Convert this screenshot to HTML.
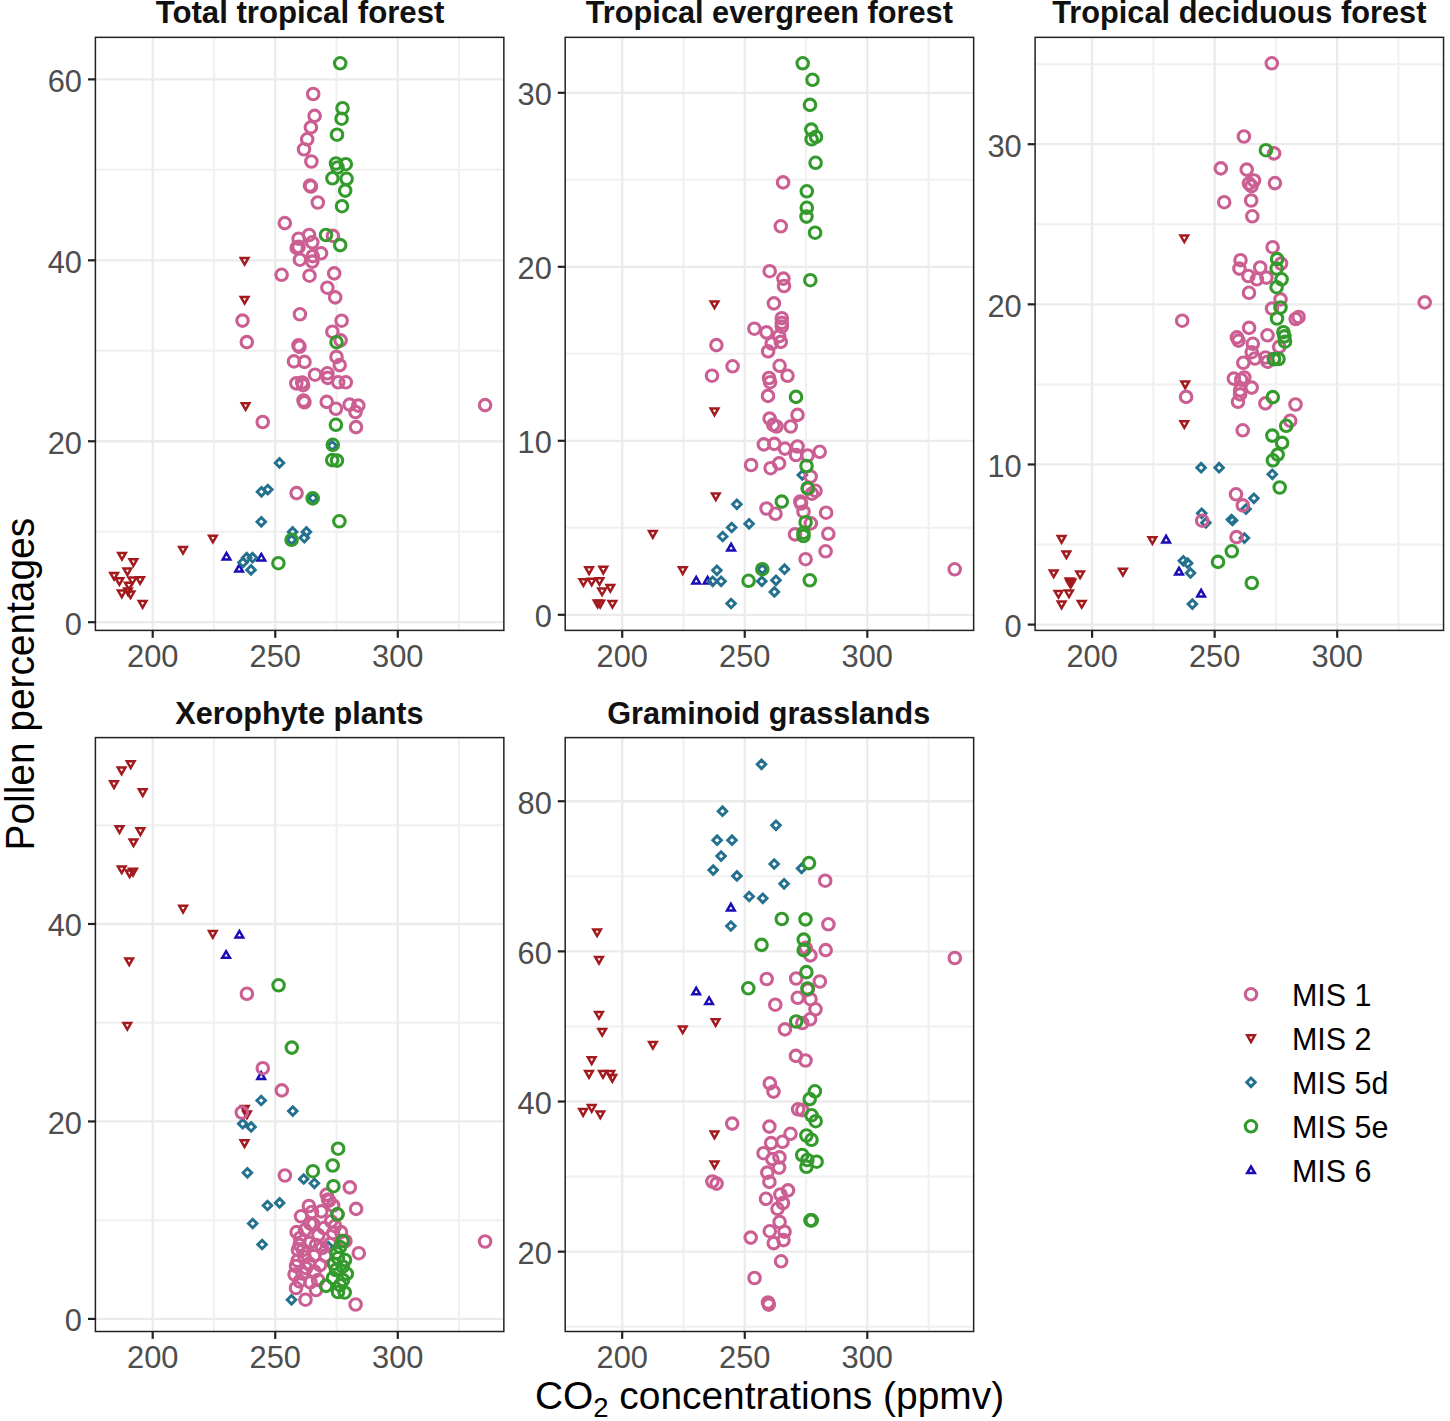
<!DOCTYPE html>
<html><head><meta charset="utf-8"><style>
html,body{margin:0;padding:0;background:#fff;}
svg{display:block;}
text{font-family:"Liberation Sans",sans-serif;}
</style></head><body>
<svg width="1450" height="1421" viewBox="0 0 1450 1421">
<rect width="1450" height="1421" fill="#fff"/>

<g stroke="#F0F0F0" stroke-width="2"><line x1="95.4" x2="503.85" y1="531.73" y2="531.73"/><line x1="95.4" x2="503.85" y1="350.79" y2="350.79"/><line x1="95.4" x2="503.85" y1="169.85" y2="169.85"/><line x1="213.97" x2="213.97" y1="37.35" y2="630.4"/><line x1="336.52" x2="336.52" y1="37.35" y2="630.4"/><line x1="459.07" x2="459.07" y1="37.35" y2="630.4"/></g><g stroke="#EBEBEB" stroke-width="2.3"><line x1="95.4" x2="503.85" y1="622.2" y2="622.2"/><line x1="95.4" x2="503.85" y1="441.26" y2="441.26"/><line x1="95.4" x2="503.85" y1="260.32" y2="260.32"/><line x1="95.4" x2="503.85" y1="79.38" y2="79.38"/><line x1="152.7" x2="152.7" y1="37.35" y2="630.4"/><line x1="275.25" x2="275.25" y1="37.35" y2="630.4"/><line x1="397.8" x2="397.8" y1="37.35" y2="630.4"/></g>
<g fill="none" stroke="#1A0DB5" stroke-width="2.5" stroke-linejoin="miter"><path d="M222.69 559.5L230.31 559.5L226.5 552.9Z"/><path d="M235.29 571.6L242.91 571.6L239.1 565Z"/><path d="M257.49 560.5L265.11 560.5L261.3 553.9Z"/></g>
<g fill="none" stroke="#A31A1E" stroke-width="2.5" stroke-linejoin="miter"><path d="M118.19 552.9L125.81 552.9L122 559.5Z"/><path d="M129.59 559.2L137.21 559.2L133.4 565.8Z"/><path d="M123.59 568.4L131.21 568.4L127.4 575Z"/><path d="M110.29 572.9L117.91 572.9L114.1 579.5Z"/><path d="M115.59 578.2L123.21 578.2L119.4 584.8Z"/><path d="M128.59 577.5L136.21 577.5L132.4 584.1Z"/><path d="M136.29 577.2L143.91 577.2L140.1 583.8Z"/><path d="M125.09 582.8L132.71 582.8L128.9 589.4Z"/><path d="M117.99 590.6L125.61 590.6L121.8 597.2Z"/><path d="M124.19 588.5L131.81 588.5L128 595.1Z"/><path d="M126.69 591.5L134.31 591.5L130.5 598.1Z"/><path d="M138.79 601.1L146.41 601.1L142.6 607.7Z"/><path d="M179.19 546.9L186.81 546.9L183 553.5Z"/><path d="M209.09 535.7L216.71 535.7L212.9 542.3Z"/><path d="M240.79 258L248.41 258L244.6 264.6Z"/><path d="M240.79 296.9L248.41 296.9L244.6 303.5Z"/><path d="M241.79 403.2L249.41 403.2L245.6 409.8Z"/></g>
<g fill="none" stroke="#24708F" stroke-width="2.9" stroke-linejoin="miter"><path d="M279.5 458.6L283.8 462.9L279.5 467.2L275.2 462.9Z"/><path d="M261.5 487.5L265.8 491.8L261.5 496.1L257.2 491.8Z"/><path d="M267.8 485.3L272.1 489.6L267.8 493.9L263.5 489.6Z"/><path d="M261.3 517.5L265.6 521.8L261.3 526.1L257 521.8Z"/><path d="M292.6 527.6L296.9 531.9L292.6 536.2L288.3 531.9Z"/><path d="M306.4 527.6L310.7 531.9L306.4 536.2L302.1 531.9Z"/><path d="M304.3 533.4L308.6 537.7L304.3 542L300 537.7Z"/><path d="M291.6 535.5L295.9 539.8L291.6 544.1L287.3 539.8Z"/><path d="M246.7 553.4L251 557.7L246.7 562L242.4 557.7Z"/><path d="M252.5 553.4L256.8 557.7L252.5 562L248.2 557.7Z"/><path d="M243 558.2L247.3 562.5L243 566.8L238.7 562.5Z"/><path d="M251 565.6L255.3 569.9L251 574.2L246.7 569.9Z"/><path d="M332.2 441.5L336.5 445.8L332.2 450.1L327.9 445.8Z"/><path d="M313 493.7L317.3 498L313 502.3L308.7 498Z"/></g>
<g fill="none" stroke="#CB5E92" stroke-width="3.1" stroke-linejoin="miter"><circle cx="296.6" cy="493.1" r="5.75"/><circle cx="313.2" cy="94" r="5.75"/><circle cx="314.6" cy="115.9" r="5.75"/><circle cx="310.9" cy="127.4" r="5.75"/><circle cx="307.2" cy="139.3" r="5.75"/><circle cx="304" cy="149.3" r="5.75"/><circle cx="311.4" cy="161.5" r="5.75"/><circle cx="310" cy="185.6" r="5.75"/><circle cx="310.9" cy="186.5" r="5.75"/><circle cx="317.8" cy="202.5" r="5.75"/><circle cx="284.8" cy="223.1" r="5.75"/><circle cx="298.6" cy="238.7" r="5.75"/><circle cx="309.1" cy="235" r="5.75"/><circle cx="312.3" cy="242.3" r="5.75"/><circle cx="298.6" cy="246.9" r="5.75"/><circle cx="296.7" cy="247.8" r="5.75"/><circle cx="299.9" cy="259.7" r="5.75"/><circle cx="312.7" cy="256.1" r="5.75"/><circle cx="312.3" cy="261.6" r="5.75"/><circle cx="321" cy="253.3" r="5.75"/><circle cx="332.9" cy="235.9" r="5.75"/><circle cx="281.6" cy="274.8" r="5.75"/><circle cx="309.5" cy="275.7" r="5.75"/><circle cx="334.2" cy="273.4" r="5.75"/><circle cx="327.4" cy="287.7" r="5.75"/><circle cx="335.2" cy="297.4" r="5.75"/><circle cx="299.9" cy="314.3" r="5.75"/><circle cx="341.6" cy="320.7" r="5.75"/><circle cx="332.4" cy="331.7" r="5.75"/><circle cx="340.6" cy="340.4" r="5.75"/><circle cx="298.5" cy="345.4" r="5.75"/><circle cx="299.5" cy="346.8" r="5.75"/><circle cx="294" cy="361.4" r="5.75"/><circle cx="304.5" cy="361.9" r="5.75"/><circle cx="336.5" cy="356.9" r="5.75"/><circle cx="339.7" cy="365.1" r="5.75"/><circle cx="315" cy="374.7" r="5.75"/><circle cx="327.4" cy="373.3" r="5.75"/><circle cx="327.8" cy="377.9" r="5.75"/><circle cx="345.8" cy="382.3" r="5.75"/><circle cx="338.2" cy="382.3" r="5.75"/><circle cx="296.3" cy="383.4" r="5.75"/><circle cx="302.2" cy="382.5" r="5.75"/><circle cx="303.1" cy="385.2" r="5.75"/><circle cx="303.5" cy="400.5" r="5.75"/><circle cx="304.4" cy="402.3" r="5.75"/><circle cx="326.7" cy="401.9" r="5.75"/><circle cx="335.9" cy="408.8" r="5.75"/><circle cx="349.6" cy="404.6" r="5.75"/><circle cx="358.3" cy="405.6" r="5.75"/><circle cx="355.5" cy="412" r="5.75"/><circle cx="356" cy="427.1" r="5.75"/><circle cx="242.5" cy="320.6" r="5.75"/><circle cx="246.8" cy="342.1" r="5.75"/><circle cx="262.7" cy="422" r="5.75"/><circle cx="485.1" cy="405.1" r="5.75"/></g>
<g fill="none" stroke="#339A2C" stroke-width="3.1" stroke-linejoin="miter"><circle cx="312.7" cy="498.4" r="5.75"/><circle cx="291.6" cy="539.8" r="5.75"/><circle cx="278.4" cy="563.2" r="5.75"/><circle cx="339.4" cy="521.3" r="5.75"/><circle cx="332.8" cy="444.8" r="5.75"/><circle cx="332.2" cy="460.1" r="5.75"/><circle cx="337" cy="460.6" r="5.75"/><circle cx="340.2" cy="63.3" r="5.75"/><circle cx="342.5" cy="108.2" r="5.75"/><circle cx="341.6" cy="118.7" r="5.75"/><circle cx="337" cy="134.7" r="5.75"/><circle cx="336" cy="163.5" r="5.75"/><circle cx="337.5" cy="167.5" r="5.75"/><circle cx="345.8" cy="164.2" r="5.75"/><circle cx="332.4" cy="178.3" r="5.75"/><circle cx="346.6" cy="178.8" r="5.75"/><circle cx="345.2" cy="190.6" r="5.75"/><circle cx="342" cy="206.2" r="5.75"/><circle cx="326" cy="235" r="5.75"/><circle cx="340.2" cy="245.1" r="5.75"/><circle cx="336.5" cy="342.2" r="5.75"/><circle cx="335.9" cy="424.8" r="5.75"/></g>
<rect x="95.4" y="37.35" width="408.45" height="593.05" fill="none" stroke="#222222" stroke-width="1.5"/>
<g stroke="#222222" stroke-width="2.2"><line x1="88" x2="95.4" y1="622.2" y2="622.2"/><line x1="88" x2="95.4" y1="441.26" y2="441.26"/><line x1="88" x2="95.4" y1="260.32" y2="260.32"/><line x1="88" x2="95.4" y1="79.38" y2="79.38"/><line x1="152.7" x2="152.7" y1="630.4" y2="637.8"/><line x1="275.25" x2="275.25" y1="630.4" y2="637.8"/><line x1="397.8" x2="397.8" y1="630.4" y2="637.8"/></g>
<g fill="#4D4D4D" font-size="30.8"><text x="82" y="634.5" text-anchor="end">0</text><text x="82" y="453.56" text-anchor="end">20</text><text x="82" y="272.62" text-anchor="end">40</text><text x="82" y="91.68" text-anchor="end">60</text><text x="152.7" y="666.5" text-anchor="middle">200</text><text x="275.25" y="666.5" text-anchor="middle">250</text><text x="397.8" y="666.5" text-anchor="middle">300</text></g>
<text x="300.05" y="23.35" text-anchor="middle" font-weight="bold" font-size="31.2" fill="#111">Total tropical forest</text>
<g stroke="#F0F0F0" stroke-width="2"><line x1="565.2" x2="973.65" y1="527.8" y2="527.8"/><line x1="565.2" x2="973.65" y1="353.8" y2="353.8"/><line x1="565.2" x2="973.65" y1="179.8" y2="179.8"/><line x1="683.48" x2="683.48" y1="37.35" y2="630.4"/><line x1="806.02" x2="806.02" y1="37.35" y2="630.4"/><line x1="928.58" x2="928.58" y1="37.35" y2="630.4"/></g><g stroke="#EBEBEB" stroke-width="2.3"><line x1="565.2" x2="973.65" y1="614.8" y2="614.8"/><line x1="565.2" x2="973.65" y1="440.8" y2="440.8"/><line x1="565.2" x2="973.65" y1="266.8" y2="266.8"/><line x1="565.2" x2="973.65" y1="92.8" y2="92.8"/><line x1="622.2" x2="622.2" y1="37.35" y2="630.4"/><line x1="744.75" x2="744.75" y1="37.35" y2="630.4"/><line x1="867.3" x2="867.3" y1="37.35" y2="630.4"/></g>
<g fill="none" stroke="#1A0DB5" stroke-width="2.5" stroke-linejoin="miter"><path d="M692.39 583.5L700.01 583.5L696.2 576.9Z"/><path d="M703.79 583.5L711.41 583.5L707.6 576.9Z"/><path d="M727.29 550.4L734.91 550.4L731.1 543.8Z"/></g>
<g fill="none" stroke="#A31A1E" stroke-width="2.5" stroke-linejoin="miter"><path d="M585.29 567.3L592.91 567.3L589.1 573.9Z"/><path d="M599.49 566.8L607.11 566.8L603.3 573.4Z"/><path d="M579.59 579.2L587.21 579.2L583.4 585.8Z"/><path d="M587.89 578.7L595.51 578.7L591.7 585.3Z"/><path d="M595.69 578.2L603.31 578.2L599.5 584.8Z"/><path d="M606.49 584.9L614.11 584.9L610.3 591.5Z"/><path d="M598.29 588.5L605.91 588.5L602.1 595.1Z"/><path d="M593.79 600.6L601.41 600.6L597.6 607.2Z"/><path d="M596.39 600.8L604.01 600.8L600.2 607.4Z"/><path d="M608.59 601L616.21 601L612.4 607.6Z"/><path d="M648.99 531.1L656.61 531.1L652.8 537.7Z"/><path d="M678.99 567.3L686.61 567.3L682.8 573.9Z"/><path d="M711.99 493.4L719.61 493.4L715.8 500Z"/><path d="M710.69 301.5L718.31 301.5L714.5 308.1Z"/><path d="M710.69 408.6L718.31 408.6L714.5 415.2Z"/></g>
<g fill="none" stroke="#24708F" stroke-width="2.9" stroke-linejoin="miter"><path d="M716.9 566L721.2 570.3L716.9 574.6L712.6 570.3Z"/><path d="M736.9 500L741.2 504.3L736.9 508.6L732.6 504.3Z"/><path d="M749.1 519.5L753.4 523.8L749.1 528.1L744.8 523.8Z"/><path d="M731.7 523.2L736 527.5L731.7 531.8L727.4 527.5Z"/><path d="M722.7 532.2L727 536.5L722.7 540.8L718.4 536.5Z"/><path d="M712.7 577L717 581.3L712.7 585.6L708.4 581.3Z"/><path d="M721.1 577L725.4 581.3L721.1 585.6L716.8 581.3Z"/><path d="M731.1 599.2L735.4 603.5L731.1 607.8L726.8 603.5Z"/><path d="M762.3 564.9L766.6 569.2L762.3 573.5L758 569.2Z"/><path d="M761.8 577L766.1 581.3L761.8 585.6L757.5 581.3Z"/><path d="M776 576L780.3 580.3L776 584.6L771.7 580.3Z"/><path d="M784.5 564.9L788.8 569.2L784.5 573.5L780.2 569.2Z"/><path d="M774.4 587.6L778.7 591.9L774.4 596.2L770.1 591.9Z"/><path d="M802.3 470.7L806.6 475L802.3 479.3L798 475Z"/></g>
<g fill="none" stroke="#CB5E92" stroke-width="3.1" stroke-linejoin="miter"><circle cx="766.5" cy="508.5" r="5.75"/><circle cx="775.5" cy="513.8" r="5.75"/><circle cx="800.3" cy="501.5" r="5.75"/><circle cx="801" cy="503.5" r="5.75"/><circle cx="803.5" cy="511.7" r="5.75"/><circle cx="810.8" cy="523.3" r="5.75"/><circle cx="811.9" cy="493.7" r="5.75"/><circle cx="826.1" cy="512.7" r="5.75"/><circle cx="795" cy="534.4" r="5.75"/><circle cx="828.3" cy="533.8" r="5.75"/><circle cx="825.6" cy="551.3" r="5.75"/><circle cx="805.6" cy="559.2" r="5.75"/><circle cx="732.6" cy="366.3" r="5.75"/><circle cx="779.6" cy="365.8" r="5.75"/><circle cx="787.5" cy="375.8" r="5.75"/><circle cx="769" cy="378" r="5.75"/><circle cx="770.1" cy="382.2" r="5.75"/><circle cx="768" cy="395.9" r="5.75"/><circle cx="769.6" cy="418.6" r="5.75"/><circle cx="797.5" cy="414.9" r="5.75"/><circle cx="773.3" cy="424.9" r="5.75"/><circle cx="776.4" cy="426.5" r="5.75"/><circle cx="790.7" cy="426.5" r="5.75"/><circle cx="763.8" cy="444.4" r="5.75"/><circle cx="774.3" cy="443.9" r="5.75"/><circle cx="784.9" cy="448.6" r="5.75"/><circle cx="797.5" cy="446.5" r="5.75"/><circle cx="796" cy="455" r="5.75"/><circle cx="807.6" cy="455.5" r="5.75"/><circle cx="819.7" cy="451.8" r="5.75"/><circle cx="751.1" cy="465" r="5.75"/><circle cx="770.6" cy="468.2" r="5.75"/><circle cx="779.1" cy="463.4" r="5.75"/><circle cx="810.7" cy="476.6" r="5.75"/><circle cx="808.1" cy="488.7" r="5.75"/><circle cx="815.5" cy="490.8" r="5.75"/><circle cx="780.8" cy="226.3" r="5.75"/><circle cx="769.7" cy="271.2" r="5.75"/><circle cx="783.4" cy="278.6" r="5.75"/><circle cx="784" cy="286" r="5.75"/><circle cx="773.9" cy="303.4" r="5.75"/><circle cx="781.8" cy="318.2" r="5.75"/><circle cx="781.8" cy="322.9" r="5.75"/><circle cx="781.8" cy="326.6" r="5.75"/><circle cx="754.4" cy="328.7" r="5.75"/><circle cx="766.5" cy="332.4" r="5.75"/><circle cx="779.2" cy="336.1" r="5.75"/><circle cx="780.8" cy="341.9" r="5.75"/><circle cx="768.1" cy="351.4" r="5.75"/><circle cx="771.8" cy="343.5" r="5.75"/><circle cx="716.4" cy="345.1" r="5.75"/><circle cx="783.1" cy="182.4" r="5.75"/><circle cx="712" cy="375.7" r="5.75"/><circle cx="954.7" cy="569.3" r="5.75"/></g>
<g fill="none" stroke="#339A2C" stroke-width="3.1" stroke-linejoin="miter"><circle cx="781.8" cy="501.6" r="5.75"/><circle cx="762.3" cy="569.2" r="5.75"/><circle cx="748.6" cy="580.8" r="5.75"/><circle cx="805.6" cy="522.2" r="5.75"/><circle cx="803.5" cy="532.8" r="5.75"/><circle cx="803.5" cy="536" r="5.75"/><circle cx="809.8" cy="580.3" r="5.75"/><circle cx="796" cy="396.9" r="5.75"/><circle cx="806.5" cy="466" r="5.75"/><circle cx="807.6" cy="488.2" r="5.75"/><circle cx="802.7" cy="63.3" r="5.75"/><circle cx="812.5" cy="79.8" r="5.75"/><circle cx="810" cy="104.9" r="5.75"/><circle cx="811.3" cy="129.6" r="5.75"/><circle cx="816" cy="136.8" r="5.75"/><circle cx="811.6" cy="139.3" r="5.75"/><circle cx="815.6" cy="162.8" r="5.75"/><circle cx="806.8" cy="191.3" r="5.75"/><circle cx="806.8" cy="207.8" r="5.75"/><circle cx="806.5" cy="216.6" r="5.75"/><circle cx="815.1" cy="232.7" r="5.75"/><circle cx="810.3" cy="280.2" r="5.75"/></g>
<rect x="565.2" y="37.35" width="408.45" height="593.05" fill="none" stroke="#222222" stroke-width="1.5"/>
<g stroke="#222222" stroke-width="2.2"><line x1="557.8" x2="565.2" y1="614.8" y2="614.8"/><line x1="557.8" x2="565.2" y1="440.8" y2="440.8"/><line x1="557.8" x2="565.2" y1="266.8" y2="266.8"/><line x1="557.8" x2="565.2" y1="92.8" y2="92.8"/><line x1="622.2" x2="622.2" y1="630.4" y2="637.8"/><line x1="744.75" x2="744.75" y1="630.4" y2="637.8"/><line x1="867.3" x2="867.3" y1="630.4" y2="637.8"/></g>
<g fill="#4D4D4D" font-size="30.8"><text x="551.8" y="627.1" text-anchor="end">0</text><text x="551.8" y="453.1" text-anchor="end">10</text><text x="551.8" y="279.1" text-anchor="end">20</text><text x="551.8" y="105.1" text-anchor="end">30</text><text x="622.2" y="666.5" text-anchor="middle">200</text><text x="744.75" y="666.5" text-anchor="middle">250</text><text x="867.3" y="666.5" text-anchor="middle">300</text></g>
<text x="769.35" y="23.35" text-anchor="middle" font-weight="bold" font-size="30.73" fill="#111">Tropical evergreen forest</text>
<g stroke="#F0F0F0" stroke-width="2"><line x1="1035.1" x2="1443.55" y1="544.53" y2="544.53"/><line x1="1035.1" x2="1443.55" y1="384.4" y2="384.4"/><line x1="1035.1" x2="1443.55" y1="224.27" y2="224.27"/><line x1="1035.1" x2="1443.55" y1="64.14" y2="64.14"/><line x1="1153.38" x2="1153.38" y1="37.35" y2="630.4"/><line x1="1275.92" x2="1275.92" y1="37.35" y2="630.4"/><line x1="1398.47" x2="1398.47" y1="37.35" y2="630.4"/></g><g stroke="#EBEBEB" stroke-width="2.3"><line x1="1035.1" x2="1443.55" y1="624.6" y2="624.6"/><line x1="1035.1" x2="1443.55" y1="464.47" y2="464.47"/><line x1="1035.1" x2="1443.55" y1="304.34" y2="304.34"/><line x1="1035.1" x2="1443.55" y1="144.21" y2="144.21"/><line x1="1092.1" x2="1092.1" y1="37.35" y2="630.4"/><line x1="1214.65" x2="1214.65" y1="37.35" y2="630.4"/><line x1="1337.2" x2="1337.2" y1="37.35" y2="630.4"/></g>
<g fill="none" stroke="#1A0DB5" stroke-width="2.5" stroke-linejoin="miter"><path d="M1162.29 542.4L1169.91 542.4L1166.1 535.8Z"/><path d="M1175.19 574.4L1182.81 574.4L1179 567.8Z"/><path d="M1197.29 596.4L1204.91 596.4L1201.1 589.8Z"/></g>
<g fill="none" stroke="#A31A1E" stroke-width="2.5" stroke-linejoin="miter"><path d="M1057.79 536.1L1065.41 536.1L1061.6 542.7Z"/><path d="M1062.59 551.4L1070.21 551.4L1066.4 558Z"/><path d="M1049.89 570.4L1057.51 570.4L1053.7 577Z"/><path d="M1076.29 571.5L1083.91 571.5L1080.1 578.1Z"/><path d="M1065.69 578.5L1073.31 578.5L1069.5 585.1Z"/><path d="M1067.69 579.5L1075.31 579.5L1071.5 586.1Z"/><path d="M1066.69 581L1074.31 581L1070.5 587.6Z"/><path d="M1054.69 591L1062.31 591L1058.5 597.6Z"/><path d="M1065.19 590.5L1072.81 590.5L1069 597.1Z"/><path d="M1057.79 601.6L1065.41 601.6L1061.6 608.2Z"/><path d="M1077.89 601L1085.51 601L1081.7 607.6Z"/><path d="M1119.09 568.8L1126.71 568.8L1122.9 575.4Z"/><path d="M1148.59 537.2L1156.21 537.2L1152.4 543.8Z"/><path d="M1180.49 235.5L1188.11 235.5L1184.3 242.1Z"/><path d="M1181.39 381.6L1189.01 381.6L1185.2 388.2Z"/><path d="M1180.49 421.2L1188.11 421.2L1184.3 427.8Z"/></g>
<g fill="none" stroke="#24708F" stroke-width="2.9" stroke-linejoin="miter"><path d="M1201.1 463.4L1205.4 467.7L1201.1 472L1196.8 467.7Z"/><path d="M1219.1 463.4L1223.4 467.7L1219.1 472L1214.8 467.7Z"/><path d="M1272.3 470L1276.6 474.3L1272.3 478.6L1268 474.3Z"/><path d="M1253.9 494L1258.2 498.3L1253.9 502.6L1249.6 498.3Z"/><path d="M1246 504.8L1250.3 509.1L1246 513.4L1241.7 509.1Z"/><path d="M1201.7 509L1206 513.3L1201.7 517.6L1197.4 513.3Z"/><path d="M1205.9 518.5L1210.2 522.8L1205.9 527.1L1201.6 522.8Z"/><path d="M1244.4 533.8L1248.7 538.1L1244.4 542.4L1240.1 538.1Z"/><path d="M1183.3 556.5L1187.6 560.8L1183.3 565.1L1179 560.8Z"/><path d="M1187.6 558.9L1191.9 563.2L1187.6 567.5L1183.3 563.2Z"/><path d="M1190.5 568.7L1194.8 573L1190.5 577.3L1186.2 573Z"/><path d="M1192.4 599.8L1196.7 604.1L1192.4 608.4L1188.1 604.1Z"/><path d="M1231.5 515.2L1235.8 519.5L1231.5 523.8L1227.2 519.5Z"/><path d="M1232.5 516.2L1236.8 520.5L1232.5 524.8L1228.2 520.5Z"/></g>
<g fill="none" stroke="#CB5E92" stroke-width="3.1" stroke-linejoin="miter"><circle cx="1236" cy="494.3" r="5.75"/><circle cx="1242.8" cy="505.4" r="5.75"/><circle cx="1202.2" cy="520.7" r="5.75"/><circle cx="1236.5" cy="537.1" r="5.75"/><circle cx="1249.1" cy="327.9" r="5.75"/><circle cx="1236.9" cy="337.4" r="5.75"/><circle cx="1238.5" cy="340.6" r="5.75"/><circle cx="1252.8" cy="343.8" r="5.75"/><circle cx="1251.7" cy="352.2" r="5.75"/><circle cx="1254.9" cy="358.5" r="5.75"/><circle cx="1243.3" cy="362.8" r="5.75"/><circle cx="1267.5" cy="335.3" r="5.75"/><circle cx="1265.5" cy="357.5" r="5.75"/><circle cx="1267.5" cy="361.7" r="5.75"/><circle cx="1279.2" cy="346.9" r="5.75"/><circle cx="1295.7" cy="319" r="5.75"/><circle cx="1298.6" cy="317" r="5.75"/><circle cx="1233.8" cy="378.6" r="5.75"/><circle cx="1241.2" cy="379.7" r="5.75"/><circle cx="1244.3" cy="377.5" r="5.75"/><circle cx="1251.7" cy="387.6" r="5.75"/><circle cx="1240.1" cy="390.2" r="5.75"/><circle cx="1240.1" cy="394.4" r="5.75"/><circle cx="1238" cy="401.8" r="5.75"/><circle cx="1265.4" cy="403.4" r="5.75"/><circle cx="1295.5" cy="404.5" r="5.75"/><circle cx="1290.2" cy="420.8" r="5.75"/><circle cx="1242.7" cy="430.3" r="5.75"/><circle cx="1273.9" cy="359.1" r="5.75"/><circle cx="1220.8" cy="168.4" r="5.75"/><circle cx="1246.7" cy="169.6" r="5.75"/><circle cx="1254" cy="180.5" r="5.75"/><circle cx="1249" cy="183.5" r="5.75"/><circle cx="1251.5" cy="186" r="5.75"/><circle cx="1274.9" cy="183.1" r="5.75"/><circle cx="1224.2" cy="202.2" r="5.75"/><circle cx="1251.2" cy="200.5" r="5.75"/><circle cx="1252.3" cy="216.3" r="5.75"/><circle cx="1272.6" cy="247.2" r="5.75"/><circle cx="1240.5" cy="260.2" r="5.75"/><circle cx="1239.4" cy="268.6" r="5.75"/><circle cx="1260.2" cy="267.5" r="5.75"/><circle cx="1248.4" cy="276" r="5.75"/><circle cx="1256.9" cy="279.3" r="5.75"/><circle cx="1266.4" cy="277.6" r="5.75"/><circle cx="1249" cy="292.8" r="5.75"/><circle cx="1281.1" cy="263.6" r="5.75"/><circle cx="1280.5" cy="299.4" r="5.75"/><circle cx="1272" cy="308.6" r="5.75"/><circle cx="1271.8" cy="63.3" r="5.75"/><circle cx="1243.9" cy="136.5" r="5.75"/><circle cx="1274.1" cy="153.4" r="5.75"/><circle cx="1182.2" cy="320.7" r="5.75"/><circle cx="1186.1" cy="396.9" r="5.75"/><circle cx="1424.7" cy="302.4" r="5.75"/></g>
<g fill="none" stroke="#339A2C" stroke-width="3.1" stroke-linejoin="miter"><circle cx="1279.7" cy="487.5" r="5.75"/><circle cx="1272.9" cy="460.3" r="5.75"/><circle cx="1277.7" cy="454.6" r="5.75"/><circle cx="1282.1" cy="442.9" r="5.75"/><circle cx="1272.3" cy="435.6" r="5.75"/><circle cx="1286.2" cy="425.8" r="5.75"/><circle cx="1231.8" cy="551.3" r="5.75"/><circle cx="1218" cy="561.9" r="5.75"/><circle cx="1251.8" cy="583" r="5.75"/><circle cx="1277" cy="318.5" r="5.75"/><circle cx="1283.4" cy="332.2" r="5.75"/><circle cx="1284.4" cy="336.4" r="5.75"/><circle cx="1285" cy="341.7" r="5.75"/><circle cx="1274" cy="359" r="5.75"/><circle cx="1278.5" cy="359" r="5.75"/><circle cx="1272.8" cy="397.1" r="5.75"/><circle cx="1277.1" cy="259.1" r="5.75"/><circle cx="1276.6" cy="268.6" r="5.75"/><circle cx="1281.6" cy="279.3" r="5.75"/><circle cx="1276.6" cy="287.2" r="5.75"/><circle cx="1280.5" cy="307.5" r="5.75"/><circle cx="1265.9" cy="150.2" r="5.75"/></g>
<rect x="1035.1" y="37.35" width="408.45" height="593.05" fill="none" stroke="#222222" stroke-width="1.5"/>
<g stroke="#222222" stroke-width="2.2"><line x1="1027.7" x2="1035.1" y1="624.6" y2="624.6"/><line x1="1027.7" x2="1035.1" y1="464.47" y2="464.47"/><line x1="1027.7" x2="1035.1" y1="304.34" y2="304.34"/><line x1="1027.7" x2="1035.1" y1="144.21" y2="144.21"/><line x1="1092.1" x2="1092.1" y1="630.4" y2="637.8"/><line x1="1214.65" x2="1214.65" y1="630.4" y2="637.8"/><line x1="1337.2" x2="1337.2" y1="630.4" y2="637.8"/></g>
<g fill="#4D4D4D" font-size="30.8"><text x="1021.7" y="636.9" text-anchor="end">0</text><text x="1021.7" y="476.77" text-anchor="end">10</text><text x="1021.7" y="316.64" text-anchor="end">20</text><text x="1021.7" y="156.51" text-anchor="end">30</text><text x="1092.1" y="666.5" text-anchor="middle">200</text><text x="1214.65" y="666.5" text-anchor="middle">250</text><text x="1337.2" y="666.5" text-anchor="middle">300</text></g>
<text x="1239.3" y="23.35" text-anchor="middle" font-weight="bold" font-size="30.75" fill="#111">Tropical deciduous forest</text>
<g stroke="#F0F0F0" stroke-width="2"><line x1="95.4" x2="503.85" y1="1220.17" y2="1220.17"/><line x1="95.4" x2="503.85" y1="1022.71" y2="1022.71"/><line x1="95.4" x2="503.85" y1="825.25" y2="825.25"/><line x1="213.97" x2="213.97" y1="737.6" y2="1331.5"/><line x1="336.52" x2="336.52" y1="737.6" y2="1331.5"/><line x1="459.07" x2="459.07" y1="737.6" y2="1331.5"/></g><g stroke="#EBEBEB" stroke-width="2.3"><line x1="95.4" x2="503.85" y1="1318.9" y2="1318.9"/><line x1="95.4" x2="503.85" y1="1121.44" y2="1121.44"/><line x1="95.4" x2="503.85" y1="923.98" y2="923.98"/><line x1="152.7" x2="152.7" y1="737.6" y2="1331.5"/><line x1="275.25" x2="275.25" y1="737.6" y2="1331.5"/><line x1="397.8" x2="397.8" y1="737.6" y2="1331.5"/></g>
<g fill="none" stroke="#1A0DB5" stroke-width="2.5" stroke-linejoin="miter"><path d="M235.59 937.5L243.21 937.5L239.4 930.9Z"/><path d="M222.29 957.8L229.91 957.8L226.1 951.2Z"/><path d="M257.39 1078.9L265.01 1078.9L261.2 1072.3Z"/></g>
<g fill="none" stroke="#A31A1E" stroke-width="2.5" stroke-linejoin="miter"><path d="M126.89 761.3L134.51 761.3L130.7 767.9Z"/><path d="M117.79 767.6L125.41 767.6L121.6 774.2Z"/><path d="M110.19 781.3L117.81 781.3L114 787.9Z"/><path d="M138.89 789.3L146.51 789.3L142.7 795.9Z"/><path d="M115.69 826.2L123.31 826.2L119.5 832.8Z"/><path d="M136.59 828.3L144.21 828.3L140.4 834.9Z"/><path d="M129.69 839.4L137.31 839.4L133.5 846Z"/><path d="M117.89 866.4L125.51 866.4L121.7 873Z"/><path d="M125.79 870.4L133.41 870.4L129.6 877Z"/><path d="M129.19 868.8L136.81 868.8L133 875.4Z"/><path d="M179.29 905.8L186.91 905.8L183.1 912.4Z"/><path d="M208.99 931.1L216.61 931.1L212.8 937.7Z"/><path d="M125.39 958.4L133.01 958.4L129.2 965Z"/><path d="M123.49 1023L131.11 1023L127.3 1029.6Z"/><path d="M240.99 1106L248.61 1106L244.8 1112.6Z"/><path d="M243.19 1111.5L250.81 1111.5L247 1118.1Z"/><path d="M240.69 1140.3L248.31 1140.3L244.5 1146.9Z"/></g>
<g fill="none" stroke="#24708F" stroke-width="2.9" stroke-linejoin="miter"><path d="M261.2 1096.2L265.5 1100.5L261.2 1104.8L256.9 1100.5Z"/><path d="M292.8 1106.8L297.1 1111.1L292.8 1115.4L288.5 1111.1Z"/><path d="M242.7 1119.4L247 1123.7L242.7 1128L238.4 1123.7Z"/><path d="M251.1 1122.6L255.4 1126.9L251.1 1131.2L246.8 1126.9Z"/><path d="M247.4 1168.5L251.7 1172.8L247.4 1177.1L243.1 1172.8Z"/><path d="M303.7 1174.7L308 1179L303.7 1183.3L299.4 1179Z"/><path d="M314.4 1179L318.7 1183.3L314.4 1187.6L310.1 1183.3Z"/><path d="M267.5 1201.2L271.8 1205.5L267.5 1209.8L263.2 1205.5Z"/><path d="M279.6 1198.6L283.9 1202.9L279.6 1207.2L275.3 1202.9Z"/><path d="M252.7 1219.2L257 1223.5L252.7 1227.8L248.4 1223.5Z"/><path d="M262.1 1240.2L266.4 1244.5L262.1 1248.8L257.8 1244.5Z"/><path d="M291.5 1295.5L295.8 1299.8L291.5 1304.1L287.2 1299.8Z"/><path d="M328.3 1242.3L332.6 1246.6L328.3 1250.9L324 1246.6Z"/></g>
<g fill="none" stroke="#CB5E92" stroke-width="3.1" stroke-linejoin="miter"><circle cx="246.9" cy="993.8" r="5.75"/><circle cx="262.8" cy="1068.2" r="5.75"/><circle cx="281.8" cy="1090.4" r="5.75"/><circle cx="241.8" cy="1112.5" r="5.75"/><circle cx="284.9" cy="1175.5" r="5.75"/><circle cx="349.8" cy="1187.4" r="5.75"/><circle cx="356.1" cy="1208.9" r="5.75"/><circle cx="358.8" cy="1253.2" r="5.75"/><circle cx="355.6" cy="1304.5" r="5.75"/><circle cx="305.5" cy="1299.7" r="5.75"/><circle cx="345.4" cy="1241" r="5.75"/><circle cx="328" cy="1199.6" r="5.75"/><circle cx="337.5" cy="1214.3" r="5.75"/><circle cx="342.5" cy="1241" r="5.75"/><circle cx="485.1" cy="1241.5" r="5.75"/><circle cx="326.7" cy="1194.6" r="5.75"/><circle cx="329.1" cy="1200.6" r="5.75"/><circle cx="333.1" cy="1205.5" r="5.75"/><circle cx="308.9" cy="1206" r="5.75"/><circle cx="321.3" cy="1211.4" r="5.75"/><circle cx="301" cy="1216.3" r="5.75"/><circle cx="313.4" cy="1224.2" r="5.75"/><circle cx="310.4" cy="1223.7" r="5.75"/><circle cx="331.1" cy="1221.3" r="5.75"/><circle cx="296.6" cy="1232.1" r="5.75"/><circle cx="318.3" cy="1235.1" r="5.75"/><circle cx="333.1" cy="1233.1" r="5.75"/><circle cx="341" cy="1232.1" r="5.75"/><circle cx="299.6" cy="1244.9" r="5.75"/><circle cx="309.4" cy="1242.9" r="5.75"/><circle cx="304.5" cy="1256.7" r="5.75"/><circle cx="314.4" cy="1255.8" r="5.75"/><circle cx="325.2" cy="1255.8" r="5.75"/><circle cx="297.6" cy="1260.7" r="5.75"/><circle cx="309.4" cy="1263.6" r="5.75"/><circle cx="294.6" cy="1274.5" r="5.75"/><circle cx="302.5" cy="1273.5" r="5.75"/><circle cx="314.4" cy="1271.5" r="5.75"/><circle cx="299.6" cy="1281.4" r="5.75"/><circle cx="310.4" cy="1282.4" r="5.75"/><circle cx="305" cy="1230" r="5.75"/><circle cx="316" cy="1245" r="5.75"/><circle cx="298" cy="1250" r="5.75"/><circle cx="320" cy="1265" r="5.75"/><circle cx="306" cy="1268" r="5.75"/><circle cx="296" cy="1288" r="5.75"/><circle cx="318" cy="1280" r="5.75"/><circle cx="330" cy="1244" r="5.75"/><circle cx="324" cy="1228" r="5.75"/><circle cx="312" cy="1212" r="5.75"/><circle cx="300" cy="1238" r="5.75"/><circle cx="296" cy="1266" r="5.75"/><circle cx="316" cy="1290" r="5.75"/><circle cx="303" cy="1250" r="5.75"/><circle cx="335" cy="1226" r="5.75"/><circle cx="322" cy="1248" r="5.75"/></g>
<g fill="none" stroke="#339A2C" stroke-width="3.1" stroke-linejoin="miter"><circle cx="278.6" cy="985.3" r="5.75"/><circle cx="291.8" cy="1047.6" r="5.75"/><circle cx="312.9" cy="1171.2" r="5.75"/><circle cx="338.1" cy="1148.7" r="5.75"/><circle cx="332.7" cy="1165.5" r="5.75"/><circle cx="333.4" cy="1186.2" r="5.75"/><circle cx="337.4" cy="1214.3" r="5.75"/><circle cx="342.7" cy="1241" r="5.75"/><circle cx="336.7" cy="1253.1" r="5.75"/><circle cx="334" cy="1263.8" r="5.75"/><circle cx="342.7" cy="1266.5" r="5.75"/><circle cx="346.8" cy="1273.8" r="5.75"/><circle cx="326" cy="1285.9" r="5.75"/><circle cx="340.1" cy="1285.2" r="5.75"/><circle cx="344.7" cy="1292.5" r="5.75"/><circle cx="338" cy="1258" r="5.75"/><circle cx="345" cy="1260" r="5.75"/><circle cx="336" cy="1270" r="5.75"/><circle cx="343" cy="1280" r="5.75"/><circle cx="333" cy="1278" r="5.75"/><circle cx="338" cy="1292" r="5.75"/><circle cx="340" cy="1247" r="5.75"/></g>
<rect x="95.4" y="737.6" width="408.45" height="593.9" fill="none" stroke="#222222" stroke-width="1.5"/>
<g stroke="#222222" stroke-width="2.2"><line x1="88" x2="95.4" y1="1318.9" y2="1318.9"/><line x1="88" x2="95.4" y1="1121.44" y2="1121.44"/><line x1="88" x2="95.4" y1="923.98" y2="923.98"/><line x1="152.7" x2="152.7" y1="1331.5" y2="1338.9"/><line x1="275.25" x2="275.25" y1="1331.5" y2="1338.9"/><line x1="397.8" x2="397.8" y1="1331.5" y2="1338.9"/></g>
<g fill="#4D4D4D" font-size="30.8"><text x="82" y="1331.2" text-anchor="end">0</text><text x="82" y="1133.74" text-anchor="end">20</text><text x="82" y="936.28" text-anchor="end">40</text><text x="152.7" y="1367.6" text-anchor="middle">200</text><text x="275.25" y="1367.6" text-anchor="middle">250</text><text x="397.8" y="1367.6" text-anchor="middle">300</text></g>
<text x="299.45" y="723.6" text-anchor="middle" font-weight="bold" font-size="30.6" fill="#111">Xerophyte plants</text>
<g stroke="#F0F0F0" stroke-width="2"><line x1="565.2" x2="973.65" y1="1326.73" y2="1326.73"/><line x1="565.2" x2="973.65" y1="1176.59" y2="1176.59"/><line x1="565.2" x2="973.65" y1="1026.45" y2="1026.45"/><line x1="565.2" x2="973.65" y1="876.31" y2="876.31"/><line x1="683.48" x2="683.48" y1="737.6" y2="1331.5"/><line x1="806.02" x2="806.02" y1="737.6" y2="1331.5"/><line x1="928.58" x2="928.58" y1="737.6" y2="1331.5"/></g><g stroke="#EBEBEB" stroke-width="2.3"><line x1="565.2" x2="973.65" y1="1251.66" y2="1251.66"/><line x1="565.2" x2="973.65" y1="1101.52" y2="1101.52"/><line x1="565.2" x2="973.65" y1="951.38" y2="951.38"/><line x1="565.2" x2="973.65" y1="801.24" y2="801.24"/><line x1="622.2" x2="622.2" y1="737.6" y2="1331.5"/><line x1="744.75" x2="744.75" y1="737.6" y2="1331.5"/><line x1="867.3" x2="867.3" y1="737.6" y2="1331.5"/></g>
<g fill="none" stroke="#1A0DB5" stroke-width="2.5" stroke-linejoin="miter"><path d="M692.39 994.3L700.01 994.3L696.2 987.7Z"/><path d="M705.29 1004L712.91 1004L709.1 997.4Z"/><path d="M727.09 910.4L734.71 910.4L730.9 903.8Z"/></g>
<g fill="none" stroke="#A31A1E" stroke-width="2.5" stroke-linejoin="miter"><path d="M593.29 929.4L600.91 929.4L597.1 936Z"/><path d="M595.19 956.9L602.81 956.9L599 963.5Z"/><path d="M595.19 1012L602.81 1012L599 1018.6Z"/><path d="M598.39 1029L606.01 1029L602.2 1035.6Z"/><path d="M649.09 1041.9L656.71 1041.9L652.9 1048.5Z"/><path d="M678.89 1026.5L686.51 1026.5L682.7 1033.1Z"/><path d="M711.79 1019.2L719.41 1019.2L715.6 1025.8Z"/><path d="M587.89 1057.3L595.51 1057.3L591.7 1063.9Z"/><path d="M585.19 1071.1L592.81 1071.1L589 1077.7Z"/><path d="M599.19 1071.1L606.81 1071.1L603 1077.7Z"/><path d="M606.49 1071.1L614.11 1071.1L610.3 1077.7Z"/><path d="M608.49 1075.1L616.11 1075.1L612.3 1081.7Z"/><path d="M579.29 1109.1L586.91 1109.1L583.1 1115.7Z"/><path d="M587.89 1105.1L595.51 1105.1L591.7 1111.7Z"/><path d="M596.49 1111.5L604.11 1111.5L600.3 1118.1Z"/><path d="M710.69 1131.6L718.31 1131.6L714.5 1138.2Z"/><path d="M710.69 1161.6L718.31 1161.6L714.5 1168.2Z"/></g>
<g fill="none" stroke="#24708F" stroke-width="2.9" stroke-linejoin="miter"><path d="M761.5 760L765.8 764.3L761.5 768.6L757.2 764.3Z"/><path d="M722.5 806.9L726.8 811.2L722.5 815.5L718.2 811.2Z"/><path d="M776 821L780.3 825.3L776 829.6L771.7 825.3Z"/><path d="M717.1 835.9L721.4 840.2L717.1 844.5L712.8 840.2Z"/><path d="M732 835.9L736.3 840.2L732 844.5L727.7 840.2Z"/><path d="M721.1 851.8L725.4 856.1L721.1 860.4L716.8 856.1Z"/><path d="M774.2 859.7L778.5 864L774.2 868.3L769.9 864Z"/><path d="M713.2 865.8L717.5 870.1L713.2 874.4L708.9 870.1Z"/><path d="M736.9 871.6L741.2 875.9L736.9 880.2L732.6 875.9Z"/><path d="M784.1 879.5L788.4 883.8L784.1 888.1L779.8 883.8Z"/><path d="M801.6 864.1L805.9 868.4L801.6 872.7L797.3 868.4Z"/><path d="M749.2 892.2L753.5 896.5L749.2 900.8L744.9 896.5Z"/><path d="M762.8 894L767.1 898.3L762.8 902.6L758.5 898.3Z"/><path d="M730.9 921.7L735.2 926L730.9 930.3L726.6 926Z"/></g>
<g fill="none" stroke="#CB5E92" stroke-width="3.1" stroke-linejoin="miter"><circle cx="732.2" cy="1123.6" r="5.75"/><circle cx="712.4" cy="1181.5" r="5.75"/><circle cx="716.6" cy="1183.6" r="5.75"/><circle cx="769.4" cy="1126.6" r="5.75"/><circle cx="790.5" cy="1133.8" r="5.75"/><circle cx="771.1" cy="1143.1" r="5.75"/><circle cx="782.5" cy="1141.8" r="5.75"/><circle cx="763.5" cy="1153.2" r="5.75"/><circle cx="772.3" cy="1159.1" r="5.75"/><circle cx="779.5" cy="1157.4" r="5.75"/><circle cx="779.1" cy="1167.6" r="5.75"/><circle cx="767.3" cy="1172.6" r="5.75"/><circle cx="769.4" cy="1181.9" r="5.75"/><circle cx="766" cy="1198.8" r="5.75"/><circle cx="780.4" cy="1194.5" r="5.75"/><circle cx="788" cy="1190.4" r="5.75"/><circle cx="782.9" cy="1203" r="5.75"/><circle cx="777.5" cy="1208.8" r="5.75"/><circle cx="779.6" cy="1222" r="5.75"/><circle cx="798.1" cy="1109.3" r="5.75"/><circle cx="802.3" cy="1110.1" r="5.75"/><circle cx="766.7" cy="979" r="5.75"/><circle cx="796.2" cy="978.5" r="5.75"/><circle cx="819.8" cy="981.5" r="5.75"/><circle cx="807.8" cy="989.6" r="5.75"/><circle cx="797.7" cy="997.8" r="5.75"/><circle cx="810.5" cy="999.2" r="5.75"/><circle cx="775.3" cy="1004.7" r="5.75"/><circle cx="815.5" cy="1009.3" r="5.75"/><circle cx="810.1" cy="1019.3" r="5.75"/><circle cx="802.3" cy="1023" r="5.75"/><circle cx="784.9" cy="1029.4" r="5.75"/><circle cx="795.9" cy="1055.9" r="5.75"/><circle cx="805.5" cy="1060.5" r="5.75"/><circle cx="769.8" cy="1083.4" r="5.75"/><circle cx="773.5" cy="1091.6" r="5.75"/><circle cx="825.2" cy="880.7" r="5.75"/><circle cx="805.7" cy="947.8" r="5.75"/><circle cx="828.4" cy="924.3" r="5.75"/><circle cx="825.7" cy="950.1" r="5.75"/><circle cx="810.4" cy="955.4" r="5.75"/><circle cx="954.8" cy="958" r="5.75"/><circle cx="769.8" cy="1231.2" r="5.75"/><circle cx="784.5" cy="1231.7" r="5.75"/><circle cx="783.5" cy="1240.1" r="5.75"/><circle cx="773.7" cy="1243.1" r="5.75"/><circle cx="750.7" cy="1237.6" r="5.75"/><circle cx="781.1" cy="1261.3" r="5.75"/><circle cx="754.5" cy="1278" r="5.75"/><circle cx="768" cy="1302.5" r="5.75"/><circle cx="768.8" cy="1304.6" r="5.75"/></g>
<g fill="none" stroke="#339A2C" stroke-width="3.1" stroke-linejoin="miter"><circle cx="809" cy="863.1" r="5.75"/><circle cx="781.8" cy="919" r="5.75"/><circle cx="805.5" cy="919.4" r="5.75"/><circle cx="803.7" cy="939.6" r="5.75"/><circle cx="803.7" cy="950.1" r="5.75"/><circle cx="761.5" cy="944.9" r="5.75"/><circle cx="806.4" cy="972.1" r="5.75"/><circle cx="748.3" cy="988.3" r="5.75"/><circle cx="807.5" cy="988.5" r="5.75"/><circle cx="796.2" cy="1021.5" r="5.75"/><circle cx="814.9" cy="1091.3" r="5.75"/><circle cx="809.7" cy="1099.1" r="5.75"/><circle cx="811.5" cy="1115.3" r="5.75"/><circle cx="815.7" cy="1121.2" r="5.75"/><circle cx="806.4" cy="1135.5" r="5.75"/><circle cx="811.5" cy="1139.8" r="5.75"/><circle cx="802.2" cy="1155" r="5.75"/><circle cx="807.3" cy="1160" r="5.75"/><circle cx="816.6" cy="1161.7" r="5.75"/><circle cx="806.4" cy="1166.8" r="5.75"/><circle cx="810.5" cy="1220.4" r="5.75"/><circle cx="811.7" cy="1220.4" r="5.75"/></g>
<rect x="565.2" y="737.6" width="408.45" height="593.9" fill="none" stroke="#222222" stroke-width="1.5"/>
<g stroke="#222222" stroke-width="2.2"><line x1="557.8" x2="565.2" y1="1251.66" y2="1251.66"/><line x1="557.8" x2="565.2" y1="1101.52" y2="1101.52"/><line x1="557.8" x2="565.2" y1="951.38" y2="951.38"/><line x1="557.8" x2="565.2" y1="801.24" y2="801.24"/><line x1="622.2" x2="622.2" y1="1331.5" y2="1338.9"/><line x1="744.75" x2="744.75" y1="1331.5" y2="1338.9"/><line x1="867.3" x2="867.3" y1="1331.5" y2="1338.9"/></g>
<g fill="#4D4D4D" font-size="30.8"><text x="551.8" y="1263.96" text-anchor="end">20</text><text x="551.8" y="1113.82" text-anchor="end">40</text><text x="551.8" y="963.68" text-anchor="end">60</text><text x="551.8" y="813.54" text-anchor="end">80</text><text x="622.2" y="1367.6" text-anchor="middle">200</text><text x="744.75" y="1367.6" text-anchor="middle">250</text><text x="867.3" y="1367.6" text-anchor="middle">300</text></g>
<text x="768.75" y="723.6" text-anchor="middle" font-weight="bold" font-size="30.6" fill="#111">Graminoid grasslands</text>
<text x="769.5" y="1409.3" text-anchor="middle" font-size="38.9" fill="#000">CO<tspan font-size="27.5" dy="7.8">2</tspan><tspan dy="-7.8"> concentrations (ppmv)</tspan></text>
<text transform="translate(34,684.2) rotate(-90) scale(1,1.03)" text-anchor="middle" font-size="38.85" fill="#000">Pollen percentages</text>
<g fill="none" stroke="#CB5E92" stroke-width="3.1" stroke-linejoin="miter"><circle cx="1251" cy="994.3" r="5.75"/></g>
<text transform="translate(1292,1005.8) scale(1.005,1.045)" font-size="30.3" fill="#000">MIS 1</text>
<g fill="none" stroke="#A31A1E" stroke-width="2.5" stroke-linejoin="miter"><path d="M1247.19 1035.3L1254.81 1035.3L1251 1041.9Z"/></g>
<text transform="translate(1292,1049.8) scale(1.005,1.045)" font-size="30.3" fill="#000">MIS 2</text>
<g fill="none" stroke="#24708F" stroke-width="2.9" stroke-linejoin="miter"><path d="M1251 1078L1255.3 1082.3L1251 1086.6L1246.7 1082.3Z"/></g>
<text transform="translate(1292,1093.8) scale(1.005,1.045)" font-size="30.3" fill="#000">MIS 5d</text>
<g fill="none" stroke="#339A2C" stroke-width="3.1" stroke-linejoin="miter"><circle cx="1251" cy="1126.3" r="5.75"/></g>
<text transform="translate(1292,1137.8) scale(1.005,1.045)" font-size="30.3" fill="#000">MIS 5e</text>
<g fill="none" stroke="#1A0DB5" stroke-width="2.5" stroke-linejoin="miter"><path d="M1247.19 1173.1L1254.81 1173.1L1251 1166.5Z"/></g>
<text transform="translate(1292,1181.8) scale(1.005,1.045)" font-size="30.3" fill="#000">MIS 6</text>
</svg>
</body></html>
